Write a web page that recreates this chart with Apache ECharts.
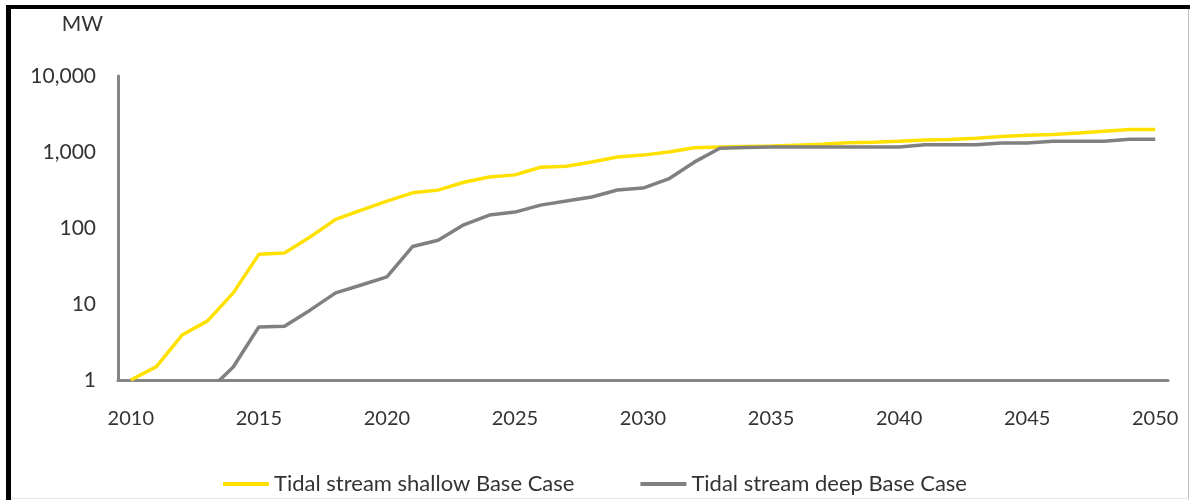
<!DOCTYPE html>
<html>
<head>
<meta charset="utf-8">
<script src="https://cdn.jsdelivr.net/npm/echarts@6/dist/echarts.min.js"></script>
<style>
html,body{margin:0;padding:0;background:#fff;}
#chart{width:1190px;height:500px;}
</style>
</head>
<body>
<div id="chart"></div>
<script>
// Years 2010..2050
const years = [
  '2010','2011','2012','2013','2014','2015','2016','2017','2018','2019',
  '2020','2021','2022','2023','2024','2025','2026','2027','2028','2029',
  '2030','2031','2032','2033','2034','2035','2036','2037','2038','2039',
  '2040','2041','2042','2043','2044','2045','2046','2047','2048','2049','2050'
];
const shallowName = 'Tidal stream shallow Base Case';
const deepName = 'Tidal stream deep Base Case';
// MW (log scale)
const shallow = [
  1, 1.5, 3.9, 6.0, 14, 45, 47, 76, 130, 172,
  226, 290, 315, 400, 468, 500, 630, 650, 740, 860,
  910, 1000, 1140, 1160, 1180, 1200, 1230, 1260, 1320, 1340,
  1380, 1440, 1460, 1520, 1600, 1660, 1700, 1780, 1880, 1970, 1980
];
const deep = [
  null, null, null, 0.7, 1.48, 5.0, 5.1, 8.3, 14, 17.8,
  22.7, 57, 69, 110, 148, 162, 200, 226, 256, 316,
  335, 442, 735, 1120, 1150, 1160, 1160, 1160, 1160, 1160,
  1160, 1250, 1250, 1250, 1310, 1310, 1380, 1380, 1380, 1470, 1470
];
const yTicks = [1, 10, 100, 1000, 10000];
const unitLabel = 'MW';

const chart = echarts.init(document.getElementById('chart'), null, {renderer: 'canvas'});
const FONT = 'Lato';
const TXT = '#333333';
chart.setOption({
  animation: false,
  backgroundColor: '#ffffff',
  grid: {left: 118, right: 22, top: 76, bottom: 120, containLabel: false},
  legend: {
    top: 468,
    left: 'center',
    icon: 'rect',
    itemWidth: 46,
    itemHeight: 4,
    itemGap: 66,
    textStyle: {fontFamily: FONT, fontSize: 22, color: TXT},
    data: [shallowName, deepName]
  },
  xAxis: {
    type: 'category',
    data: years,
    boundaryGap: true,
    axisLine: {lineStyle: {color: '#868686', width: 3}},
    axisTick: {show: false},
    axisLabel: {interval: 4, margin: 29, fontFamily: FONT, fontSize: 20, color: TXT},
    splitLine: {show: false}
  },
  yAxis: {
    type: 'log',
    logBase: 10,
    min: 1,
    max: 10000,
    name: unitLabel,
    nameLocation: 'end',
    nameGap: 41,
    nameTextStyle: {fontFamily: FONT, fontSize: 21, color: TXT, align: 'right', padding: [0, 15, 0, 0]},
    axisLine: {show: true, lineStyle: {color: '#868686', width: 3}},
    axisTick: {show: false},
    splitLine: {show: false},
    axisLabel: {
      margin: 22,
      fontFamily: FONT, fontSize: 21, color: TXT,
      formatter: v => yTicks.includes(Math.round(v)) ? Math.round(v).toLocaleString('en-US') : ''
    }
  },
  series: [
    {
      name: shallowName, type: 'line', data: shallow, symbol: 'none', clip: true,
      lineStyle: {color: '#FFE100', width: 3.5}, itemStyle: {color: '#FFE100'}, z: 3
    },
    {
      name: deepName, type: 'line', data: deep, symbol: 'none', clip: true,
      lineStyle: {color: '#808080', width: 3.5}, itemStyle: {color: '#808080'}, z: 4
    }
  ],
  graphic: [
    {type: 'rect', shape: {x: 6, y: 5, width: 1184, height: 4}, style: {fill: '#000'}, silent: true},
    {type: 'rect', shape: {x: 6, y: 5, width: 5, height: 495}, style: {fill: '#000'}, silent: true},
    {type: 'rect', shape: {x: 1188, y: 9, width: 1, height: 491}, style: {fill: '#bfbfbf'}, silent: true},
    {type: 'rect', shape: {x: 11, y: 498, width: 1178, height: 1}, style: {fill: '#e6e6e6'}, silent: true}
  ]
});
</script>
</body>
</html>
